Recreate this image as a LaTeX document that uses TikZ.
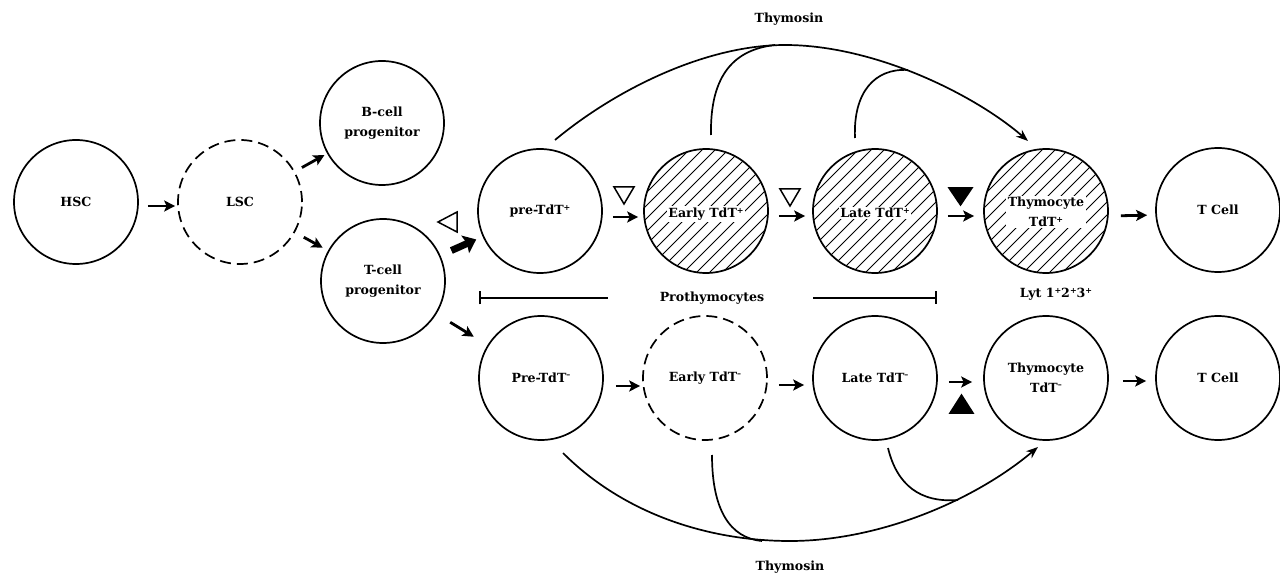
\documentclass[tikz,border=0pt]{standalone}
\usepackage{fontspec}
\setmainfont{DejaVu Serif}
\usetikzlibrary{arrows.meta}
\newcommand\cellfont{\fontsize{12.6}{20}\selectfont\bfseries}
\newcommand\splus{\raisebox{0.6ex}{\fontsize{8}{8}\selectfont +}}
\newcommand\sminus{\raisebox{0.75ex}{\fontsize{8}{8}\selectfont –}}
\begin{document}
\begin{tikzpicture}[x=1pt,y=-1pt,line width=1.7pt,
  cell/.style={circle,draw,minimum size=124pt,inner sep=0pt,align=center,font=\cellfont},
  dashedcell/.style={cell,dash pattern=on 11pt off 6pt},
  hatched/.style={cell,path picture={\foreach \k in {-8,...,8}{\draw[line width=1pt,solid] ([shift={(\k*13-100,100)}]path picture bounding box.center) -- ++(200,-200);}}},
  hlabel/.style={fill=white,inner sep=1.5pt,align=center,font=\cellfont},
  txt/.style={font=\cellfont,inner sep=2pt},
  sarrow/.style={line width=2.8pt,-{Stealth[length=11pt,width=11pt,inset=2.5pt]}},
  fatarrow/.style={line width=7pt,-{Stealth[length=12pt,width=19pt,inset=2pt]}},
  curve/.style={line width=1.7pt},
  carrow/.style={curve,-{Stealth[length=12pt,width=9pt]}},
  tri/.style={line width=1.5pt,draw,line join=miter},
  bracket/.style={line width=1.7pt},
]
\path[fill=white] (0,0) rectangle (1280,577);
\useasboundingbox (0,0) rectangle (1280,577);

% cells
\node[cell] (hsc) at (76,202) {HSC};
\node[dashedcell] (lsc) at (240,202) {LSC};
\node[cell] (bcell) at (382,123) {B-cell\\progenitor};
\node[cell] (tcell) at (383,281) {T-cell\\progenitor};
\node[cell] (prep) at (540,211) {pre-TdT\splus};
\node[hatched] (earlyp) at (706,211) {};
\node[hatched] (latep) at (875,211) {};
\node[hatched] (thyp) at (1046,211) {};
\node[cell] (tcp) at (1218,210) {T Cell};
\node[cell] (prem) at (541,378) {Pre-TdT\sminus};
\node[dashedcell] (earlym) at (705,378) {Early TdT\sminus};
\node[cell] (latem) at (875,378) {Late TdT\sminus};
\node[cell] (thym) at (1046,378) {Thymocyte\\TdT\sminus};
\node[cell] (tcm) at (1218,378) {T Cell};

\node[hlabel] (earlypl) at (706,214) {Early TdT\splus};
\node[hlabel] (latepl) at (875,213) {Late TdT\splus};
\node[hlabel] (thypl) at (1046,212) {Thymocyte\\TdT\splus};

% labels
\node[txt] (thymtop) at (789,19) {Thymosin};
\node[txt] (thymbot) at (790,567) {Thymosin};
\node[txt] (lyt) at (1056,294) {Lyt 1\splus2\splus3\splus};
\node[txt] (proth) at (712,298) {Prothymocytes};
\coordinate (brl) at (479,298);
\coordinate (brr) at (937,298);
\draw[bracket,{Bar[width=13pt]}-] (brl) -- ([xshift=-49pt]proth.west);
\draw[bracket,-{Bar[width=13pt]}] ([xshift=46pt]proth.east) -- (brr);

% short arrows
\draw[sarrow,shorten <=9pt,shorten >=2pt] ([yshift=-4pt]hsc.east) -- ([yshift=-4pt]lsc.west);
\draw[sarrow,shorten <=8pt,shorten >=3pt] (lsc) -- (bcell);
\draw[sarrow,shorten <=10pt,shorten >=6pt] (lsc) -- (tcell);
\draw[sarrow,shorten <=16pt,shorten >=16pt] (tcell) -- (prem);
\draw[fatarrow,shorten <=12pt,shorten >=7pt] (tcell) -- (prep);

\draw[sarrow,shorten <=10pt,shorten >=5pt] ([yshift=-6pt]prep.east) -- ([yshift=-6pt]earlyp.west);
\draw[sarrow,shorten <=10pt,shorten >=7pt] ([yshift=-5pt]earlyp.east) -- ([yshift=-5pt]latep.west);
\draw[sarrow,shorten <=10pt,shorten >=9pt] ([yshift=-5pt]latep.east) -- ([yshift=-5pt]thyp.west);
\draw[sarrow,shorten <=12pt,shorten >=8pt] ([yshift=-5pt]thyp.east) -- ([yshift=-5pt]tcp.west);

\draw[sarrow,shorten <=12pt,shorten >=2pt] ([yshift=-8pt]prem.east) -- ([yshift=-8pt]earlym.west);
\draw[sarrow,shorten <=11pt,shorten >=8pt] ([yshift=-7pt]earlym.east) -- ([yshift=-7pt]latem.west);
\draw[sarrow,shorten <=11pt,shorten >=11pt] ([yshift=-4pt]latem.east) -- ([yshift=-4pt]thym.west);
\draw[sarrow,shorten <=14pt,shorten >=9pt] ([yshift=-3pt]thym.east) -- ([yshift=-3pt]tcm.west);

% triangles
\draw[tri,fill=white] (438,222) -- (457,212) -- (457,232) -- cycle;
\draw[tri,fill=white] (614,187) -- (634,187) -- (624,204) -- cycle;
\draw[tri,fill=white] (780,189) -- (800,189) -- (790,206) -- cycle;
\draw[tri,fill=black] (949,188) -- (972,188) -- (960.5,205) -- cycle;
\draw[tri,fill=black] (950,413) -- (973,413) -- (961.5,395) -- cycle;

% thymosin curves (top)
\coordinate (toppeak) at (785,45);
\coordinate (ejoin) at (775,45);
\coordinate (ljoin) at (908,70);
\draw[carrow] ([shift={(15,-71)}]prep.center) .. controls +(60,-50) and +(-80,0) .. (toppeak)
  .. controls +(90,0) and +(-53,-46) .. ([shift={(-18,-70)}]thyp.center);
\draw[curve] ([shift={(5,-76)}]earlyp.center) .. controls +(-1,-55) and +(-45,5) .. (ejoin);
\draw[curve] ([shift={(-20,-73)}]latep.center) .. controls +(-2,-46) and +(-33,-2) .. (ljoin);

% thymosin curves (bottom)
\coordinate (botpeak) at (790,541);
\coordinate (ejoinb) at (762,541);
\coordinate (ljoinb) at (958,500);
\draw[carrow] ([shift={(22,75)}]prem.center) .. controls +(62,62) and +(-80,0) .. (botpeak)
  .. controls +(90,0) and +(-63,53) .. ([shift={(-8,69)}]thym.center);
\draw[curve] ([shift={(7,77)}]earlym.center) .. controls +(0,55) and +(-32,-3) .. (ejoinb);
\draw[curve] ([shift={(13,70)}]latem.center) .. controls +(9,37) and +(-38,3) .. (ljoinb);
\end{tikzpicture}
\end{document}
